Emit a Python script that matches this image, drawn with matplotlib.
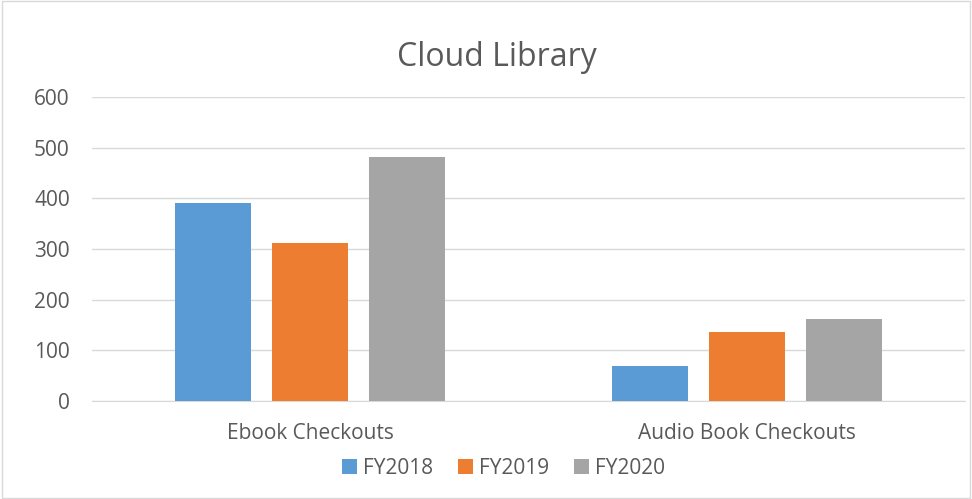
import numpy as np
import matplotlib.pyplot as plt
from matplotlib.patches import Rectangle

categories = ['Ebook Checkouts', 'Audio Book Checkouts']
series = ['FY2018', 'FY2019', 'FY2020']
values = {
    'FY2018': [390, 70],
    'FY2019': [312, 136],
    'FY2020': [481, 161],
}
colors = ['#5b9bd5', '#ed7d31', '#a5a5a5']
yticks = [0, 100, 200, 300, 400, 500, 600]

plt.rcParams['font.family'] = ['Open Sans', 'DejaVu Sans']

fig = plt.figure(figsize=(9.72, 4.99), dpi=100)
ax = fig.add_axes([0.0947, 0.1964, 0.8981, 0.6092])

x = np.arange(len(categories))
width = 0.174
step = 0.222
for i, s in enumerate(series):
    ax.bar(x + (i - 1) * step, values[s], width, color=colors[i], label=s, zorder=3)

ax.set_xlim(-0.5, 1.5)
ax.set_ylim(0, 600)
ax.set_yticks(yticks)
ax.set_xticks(x)
ax.set_xticklabels(categories)
ax.grid(axis='y', color='#d9d9d9', linewidth=1, zorder=0)
for sp in ['top', 'right', 'left']:
    ax.spines[sp].set_visible(False)
ax.spines['bottom'].set_color('#d9d9d9')
ax.tick_params(axis='both', length=0, labelsize=15, colors='#595959')
ax.tick_params(axis='y', pad=16)
ax.tick_params(axis='x', pad=16)

fig.text(0.511, 0.885, 'Cloud Library', ha='center', va='center', fontsize=23, color='#595959')
fig.legend(loc='center', bbox_to_anchor=(0.518, 0.062), ncol=3, frameon=False,
           fontsize=15, labelcolor='#595959', handlelength=0.7, handleheight=0.7,
           handletextpad=0.3, columnspacing=1.2)

fig.patches.append(Rectangle((0.002, 0.002), 0.996, 0.996, transform=fig.transFigure,
                             fill=False, edgecolor='#d9d9d9', linewidth=1))

fig.savefig('out.png', dpi=100)
